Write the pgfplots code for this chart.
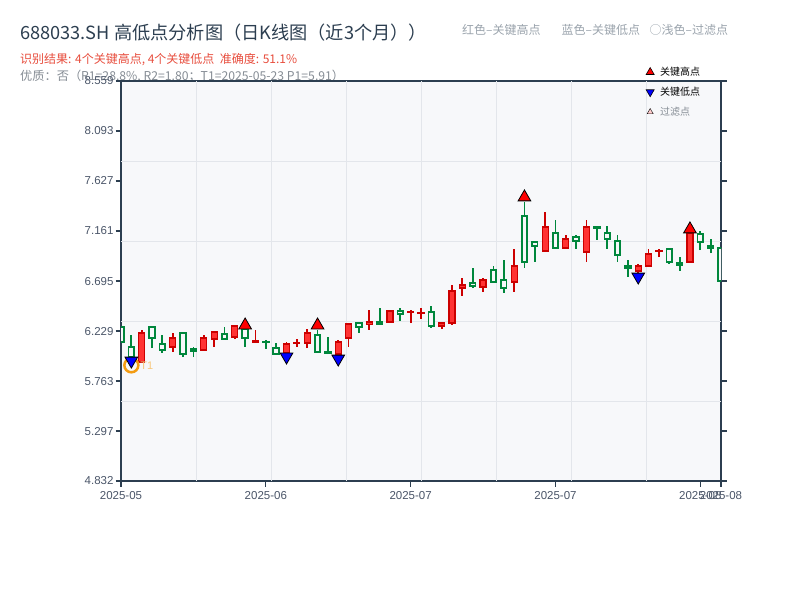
\documentclass[border=0pt]{standalone}
\usepackage{fontspec}
\setmainfont{Noto Sans CJK SC}
\newfontfamily\ticksans{Liberation Sans}
\usepackage{pgfplots}
\pgfplotsset{compat=1.18}
\usepackage{pgfplotstable}

\definecolor{titlec}{HTML}{2C3E50}
\definecolor{redtxt}{HTML}{E74C3C}
\definecolor{graytxt}{HTML}{858C94}
\definecolor{lgray}{HTML}{9AA3AC}
\definecolor{bgc}{HTML}{F7F8FA}
\definecolor{gridc}{HTML}{E3E6EB}
\definecolor{axc}{HTML}{2C3E50}
\definecolor{tickc}{HTML}{4A5568}
\definecolor{cRed}{HTML}{FF3333}
\definecolor{cRedEdge}{HTML}{CC0000}
\definecolor{cGreen}{HTML}{00873C}
\definecolor{cOrange}{HTML}{F39C12}

% daily candles: index, open, high, low, close
\pgfplotstableread{
i  o     h     l     c
2  5.941 6.239 5.941 6.211
5  6.081 6.211 6.034 6.164
8  6.053 6.192 6.053 6.164
9  6.155 6.220 6.081 6.220
11 6.174 6.286 6.155 6.276
13 6.127 6.239 6.127 6.136
16 6.025 6.127 6.025 6.108
17 6.113 6.155 6.081 6.122
18 6.118 6.248 6.071 6.211
21 6.015 6.146 6.015 6.127
22 6.164 6.304 6.081 6.295
24 6.290 6.425 6.239 6.313
26 6.313 6.416 6.313 6.416
28 6.402 6.425 6.304 6.411
29 6.393 6.444 6.341 6.402
31 6.276 6.304 6.248 6.304
32 6.304 6.658 6.286 6.602
33 6.630 6.724 6.556 6.658
35 6.640 6.724 6.593 6.705
38 6.686 6.994 6.593 6.835
41 6.975 7.338 6.975 7.199
43 7.003 7.124 6.994 7.087
45 6.966 7.264 6.873 7.199
50 6.789 6.854 6.770 6.835
51 6.835 6.994 6.835 6.947
52 6.970 6.994 6.919 6.980
55 6.873 7.143 6.873 7.143
}\upcandles

\pgfplotstableread{
i  o     h     l     c
0  6.267 6.267 6.127 6.127
1  6.080 6.192 5.941 5.987
3  6.267 6.267 6.071 6.164
4  6.108 6.192 6.025 6.053
6  6.211 6.211 5.987 6.015
7  6.062 6.081 5.987 6.043
10 6.202 6.267 6.146 6.155
12 6.248 6.248 6.081 6.164
14 6.132 6.146 6.062 6.122
15 6.071 6.118 6.006 6.015
19 6.192 6.239 6.025 6.034
20 6.034 6.174 6.015 6.020
23 6.304 6.313 6.211 6.267
25 6.313 6.444 6.295 6.295
27 6.416 6.444 6.323 6.388
30 6.407 6.463 6.258 6.276
34 6.677 6.817 6.630 6.649
36 6.798 6.835 6.677 6.686
37 6.705 6.891 6.584 6.630
39 7.301 7.432 6.817 6.873
40 7.059 7.059 6.873 7.022
42 7.143 7.264 7.003 7.003
44 7.106 7.124 6.994 7.068
46 7.199 7.199 7.078 7.185
47 7.143 7.208 6.994 7.087
48 7.068 7.124 6.873 6.938
49 6.835 6.891 6.733 6.817
53 6.994 7.003 6.854 6.873
54 6.863 6.919 6.789 6.845
56 7.133 7.161 6.984 7.059
57 7.022 7.087 6.956 7.003
58 7.003 7.003 6.696 6.696
}\downcandles

% marker positions (triangle centres)
\pgfplotstableread{
i  y
12 6.283
19 6.283
39 7.476
55 7.178
}\keyhighs

\pgfplotstableread{
i  y
1  5.952
16 5.990
21 5.971
50 6.735
}\keylows

\pgfplotsset{
    frame/.style={
        width=600pt, height=400pt, scale only axis,
        xmin=0, xmax=58, ymin=4.832, ymax=8.559,
        enlargelimits=false,
        at={(121pt,119pt)}, anchor=south west,
    },
    wick/.style={
        only marks, mark=*, mark size=0.1pt, mark options={opacity=0}, forget plot,
        error bars/.cd, y dir=plus, y explicit, error mark=none,
        error bar style={line width=1.8pt, draw=#1},
    },
}

\begin{document}
\begin{tikzpicture}[x=1pt,y=1pt]
    \path (0,0) rectangle (800,600);

    \node[anchor=base west, inner sep=0, font=\fontsize{18.2}{20}\selectfont, text=titlec]
        at (20,560) {688033.SH 高低点分析图（日K线图（近3个月））};
    \node[anchor=base west, inner sep=0, font=\fontsize{12}{14}\selectfont, text=redtxt]
        at (20,536.5) {识别结果: 4个关键高点, 4个关键低点\ \ 准确度: 51.1\%};
    \node[anchor=base west, inner sep=0, font=\fontsize{12.2}{14}\selectfont, text=graytxt]
        at (20,519.5) {优质：否（R1=28.8\%, R2=1.80；T1=2025-05-23 P1=5.91）};
    \node[anchor=base west, inner sep=0, font=\fontsize{12}{14}\selectfont, text=lgray]
        at (462,565.5) {红色–关键高点};
    \node[anchor=base west, inner sep=0, font=\fontsize{12}{14}\selectfont, text=lgray]
        at (561.5,565.5) {蓝色–关键低点};
    \node[anchor=base west, inner sep=0, font=\fontsize{12}{14}\selectfont, text=lgray]
        at (649.5,565.5) {○浅色–过滤点};

    % frame, grid, ticks and wicks
    \begin{axis}[
        frame,
        axis background/.style={fill=bgc},
        axis line style={axc, line width=1.5pt},
        tick style={axc, line width=1.2pt},
        major tick length=5.5pt,
        tick align=outside,
        xtick pos=left,
        ytick pos=both,
        xtick={0,14,28,42,56,58},
        xticklabels={2025-05,2025-06,2025-07,2025-07,2025-08,2025-08},
        ytick={4.832,5.297,5.763,6.229,6.695,7.161,7.627,8.093,8.559},
        yticklabels={4.832,5.297,5.763,6.229,6.695,7.161,7.627,8.093,8.559},
        ticklabel style={font=\ticksans\fontsize{11.5}{13}\selectfont, text=tickc},
        xticklabel style={yshift=-1pt},
        yticklabel style={xshift=1.5pt},
        extra x ticks={7.25,14.5,21.75,29,36.25,43.5,50.75},
        extra x tick labels={},
        extra x tick style={grid=major, major tick length=0pt},
        extra y ticks={5.5774,6.3228,7.0682,7.8136},
        extra y tick labels={},
        extra y tick style={grid=major, major tick length=0pt},
        grid style={gridc, line width=0.9pt},
    ]
    \addplot[wick=cRedEdge]
        table[x=i, y=l, y error plus expr=\thisrow{h}-\thisrow{l}] {\upcandles};
    \addplot[wick=cGreen]
        table[x=i, y=l, y error plus expr=\thisrow{h}-\thisrow{l}] {\downcandles};
    \end{axis}

    % bodies of rising days
    \begin{axis}[frame, hide axis, ybar stacked, bar width=6pt]
    \addplot[draw=none, fill=none] table[x=i, y=o] {\upcandles};
    \addplot[fill=cRed, draw=cRedEdge, line width=1.2pt]
        table[x=i, y expr=\thisrow{c}-\thisrow{o}] {\upcandles};
    \end{axis}

    % bodies of falling days
    \begin{axis}[frame, hide axis, ybar stacked, bar width=5.6pt]
    \addplot[draw=none, fill=none] table[x=i, y=c] {\downcandles};
    \addplot[fill=bgc, draw=cGreen, line width=1.8pt]
        table[x=i, y expr=\thisrow{o}-\thisrow{c}] {\downcandles};
    \end{axis}

    % key points and legend
    \begin{axis}[frame, hide axis,
        legend style={draw=none, fill=none, at={(0.875,1.04)}, anchor=north west,
            font=\fontsize{10}{12}\selectfont, row sep=6pt, column sep=4pt,
            inner sep=0pt},
        legend cell align=left,
    ]
    \addplot[only marks, mark=o, mark size=7pt, cOrange, line width=2.5pt, forget plot]
        coordinates {(1,5.91)};
    \node[anchor=west, inner sep=0, font=\ticksans\fontsize{11}{13}\selectfont, text=cOrange!55]
        at (axis cs:1.85,5.91) {T1};
    \addplot[only marks, mark=triangle*, mark size=7.3pt, forget plot,
        mark options={fill=red, draw=black, line width=0.8pt}]
        table[x=i, y=y] {\keyhighs};
    \addplot[only marks, mark=triangle*, mark size=7.3pt, forget plot,
        mark options={rotate=180, fill=blue, draw=black, line width=0.8pt}]
        table[x=i, y=y] {\keylows};

    \addlegendimage{only marks, mark=triangle*, mark size=4.6pt,
        mark options={fill=red, draw=black, line width=0.6pt}}
    \addlegendentry{关键高点}
    \addlegendimage{only marks, mark=triangle*, mark size=4.6pt,
        mark options={rotate=180, fill=blue, draw=black, line width=0.6pt}}
    \addlegendentry{关键低点}
    \addlegendimage{only marks, mark=triangle*, mark size=3.5pt,
        mark options={fill=red!20, draw=black, line width=0.4pt}}
    \addlegendentry{\textcolor{graytxt}{过滤点}}
    \end{axis}
\end{tikzpicture}
\end{document}
